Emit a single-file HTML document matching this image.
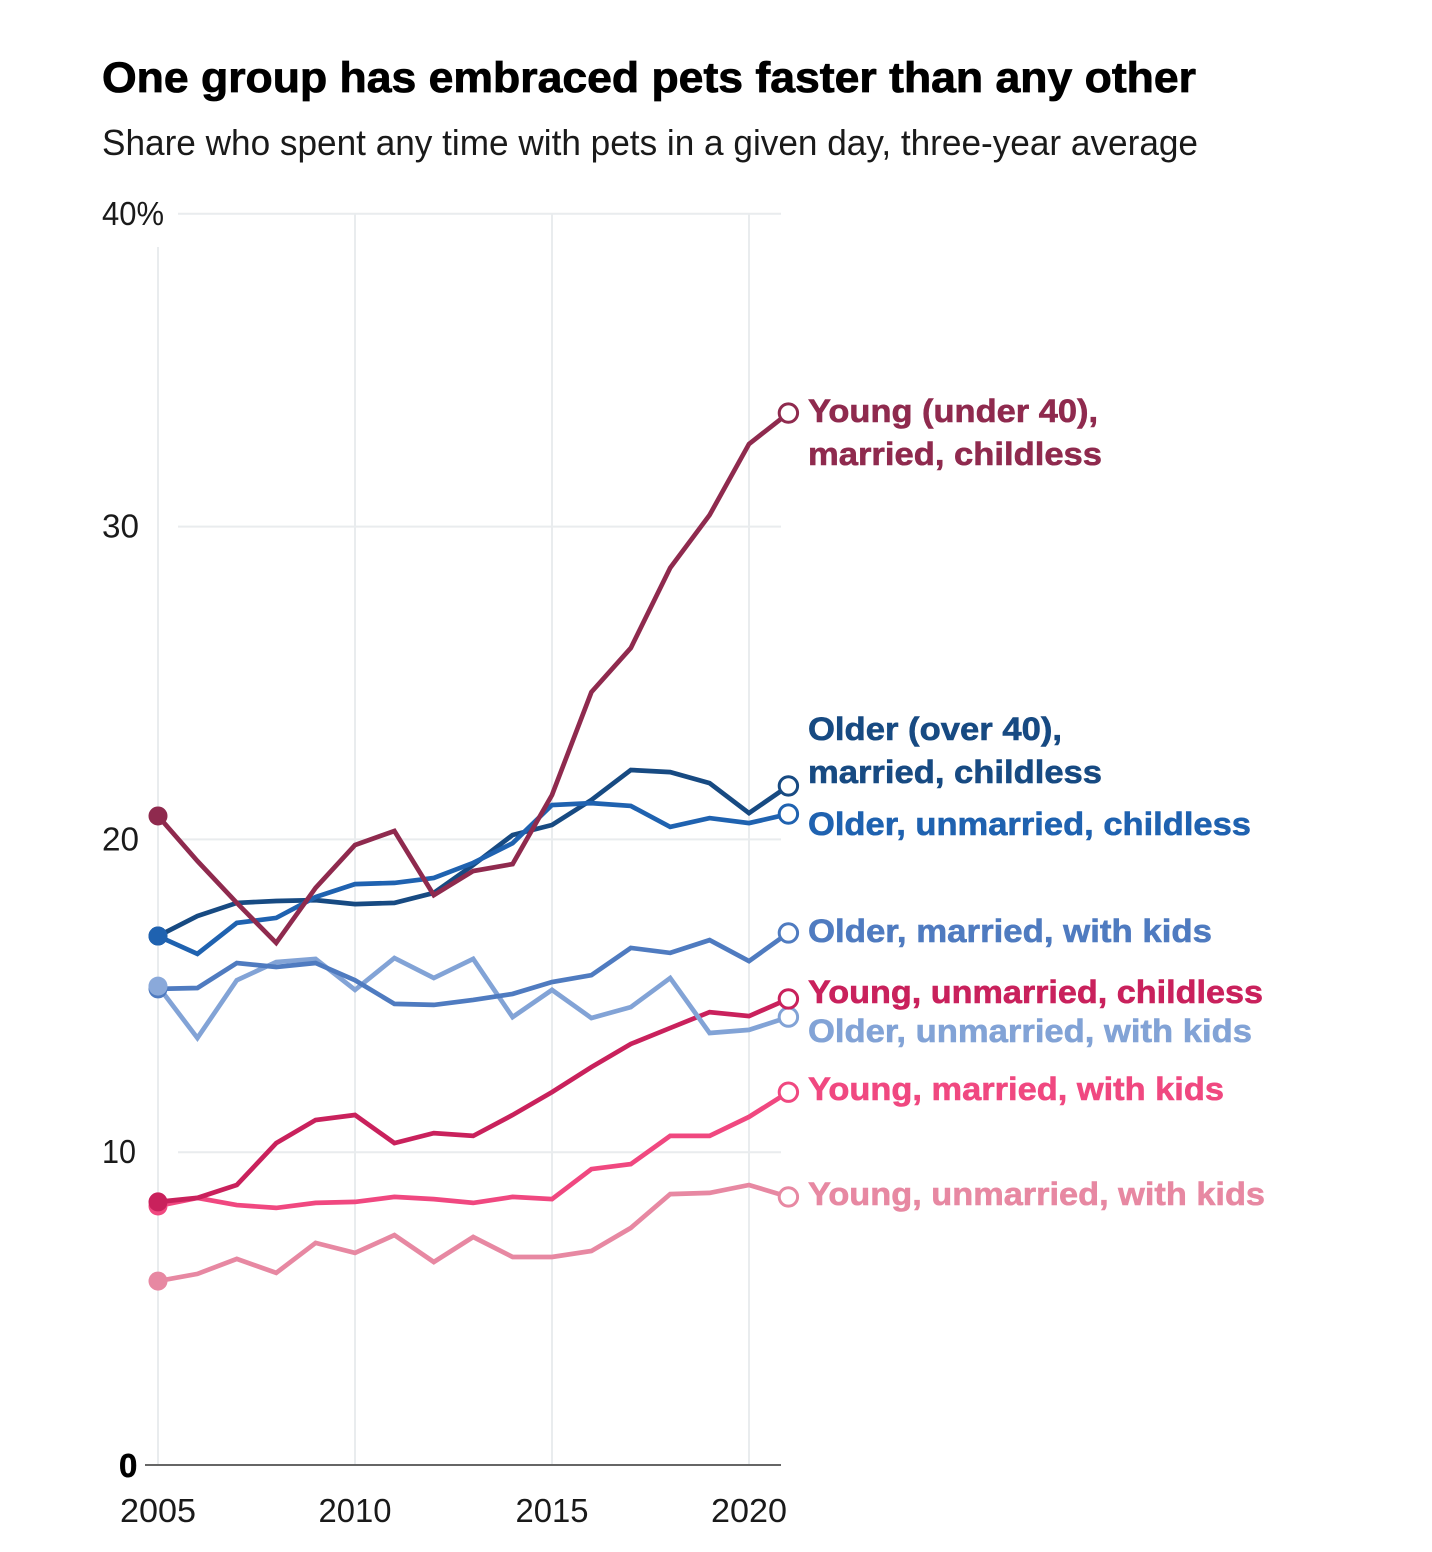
<!DOCTYPE html>
<html lang="en">
<head>
<meta charset="utf-8">
<title>One group has embraced pets faster than any other</title>
<style>
html,body{margin:0;padding:0;background:#fff;}
body{width:1432px;height:1552px;overflow:hidden;}
svg{display:block;}
text{font-family:"Liberation Sans",sans-serif;}
.label{font-size:32px;font-weight:700;}
.tick{font-size:33px;fill:#1a1a1a;}
</style>
</head>
<body>
<svg id="chart" width="1432" height="1552" viewBox="0 0 1432 1552" xmlns="http://www.w3.org/2000/svg">
  <rect width="1432" height="1552" fill="#fff"/>
  <text x="102" y="92" font-size="43" font-weight="700" fill="#000" stroke="#000" stroke-width="0.8" textLength="1094" lengthAdjust="spacingAndGlyphs">One group has embraced pets faster than any other</text>
  <text x="102" y="155" font-size="36" fill="#1a1a1a" textLength="1096" lengthAdjust="spacingAndGlyphs">Share who spent any time with pets in a given day, three-year average</text>
  <g id="grid"></g>
  <g id="axes"></g>
  <g id="series"></g>
  <g id="dots"></g>

  <g>
    <text class="label" x="808" y="422" fill="#8f2a4e" stroke="#8f2a4e" stroke-width="0.6" textLength="290" lengthAdjust="spacingAndGlyphs">Young (under 40),</text>
    <text class="label" x="808" y="465" fill="#8f2a4e" stroke="#8f2a4e" stroke-width="0.6" textLength="294" lengthAdjust="spacingAndGlyphs">married, childless</text>
    <text class="label" x="808" y="740" fill="#174a82" stroke="#174a82" stroke-width="0.6" textLength="254" lengthAdjust="spacingAndGlyphs">Older (over 40),</text>
    <text class="label" x="808" y="783" fill="#174a82" stroke="#174a82" stroke-width="0.6" textLength="294" lengthAdjust="spacingAndGlyphs">married, childless</text>
    <text class="label" x="808" y="835" fill="#1f62b0" stroke="#1f62b0" stroke-width="0.6" textLength="443" lengthAdjust="spacingAndGlyphs">Older, unmarried, childless</text>
    <text class="label" x="808" y="942" fill="#4f7bc0" stroke="#4f7bc0" stroke-width="0.6" textLength="404" lengthAdjust="spacingAndGlyphs">Older, married, with kids</text>
    <text class="label" x="808" y="1003" fill="#c9215c" stroke="#c9215c" stroke-width="0.6" textLength="455" lengthAdjust="spacingAndGlyphs">Young, unmarried, childless</text>
    <text class="label" x="808" y="1042" fill="#82a3d6" stroke="#82a3d6" stroke-width="0.6" textLength="444" lengthAdjust="spacingAndGlyphs">Older, unmarried, with kids</text>
    <text class="label" x="808" y="1100" fill="#f04880" stroke="#f04880" stroke-width="0.6" textLength="416" lengthAdjust="spacingAndGlyphs">Young, married, with kids</text>
    <text class="label" x="808" y="1205" fill="#e788a2" stroke="#e788a2" stroke-width="0.6" textLength="457" lengthAdjust="spacingAndGlyphs">Young, unmarried, with kids</text>
  </g>
</svg>
<script>
const years = [2005,2006,2007,2008,2009,2010,2011,2012,2013,2014,2015,2016,2017,2018,2019,2020,2021];
const yTicks = [10,20,30,40];
const yTickLabels = ['10','20','30','40%'];
const xTicks = [2005,2010,2015,2020];
const xTickLabels = ['2005','2010','2015','2020'];

const youngUnmarriedKids = [5.88,6.11,6.59,6.14,7.10,6.78,7.35,6.49,7.29,6.65,6.65,6.84,7.58,8.66,8.70,8.95,8.57];
const youngMarriedKids = [8.28,8.54,8.31,8.22,8.38,8.41,8.57,8.50,8.38,8.57,8.50,9.46,9.62,10.52,10.52,11.13,11.92];
const youngUnmarriedChildless = [8.41,8.54,8.95,10.29,11.03,11.19,10.29,10.61,10.52,11.19,11.92,12.72,13.46,13.97,14.48,14.35,14.90];
const olderMarriedKids = [15.22,15.25,16.05,15.92,16.05,15.50,14.74,14.71,14.87,15.06,15.44,15.66,16.53,16.37,16.78,16.11,17.01];
const olderUnmarriedKids = [15.31,13.65,15.50,16.08,16.18,15.19,16.21,15.57,16.18,14.32,15.19,14.29,14.64,15.57,13.81,13.91,14.32];
const olderUnmarriedChildless = [16.91,16.34,17.33,17.49,18.16,18.57,18.61,18.77,19.25,19.88,21.10,21.16,21.07,20.40,20.68,20.52,20.81];
const olderMarriedChildless = [16.91,17.55,17.97,18.03,18.06,17.93,17.97,18.29,19.18,20.14,20.46,21.26,22.22,22.15,21.80,20.84,21.71];
const youngMarriedChildless = [20.75,19.31,17.97,16.69,18.45,19.82,20.27,18.22,18.99,19.21,21.42,24.71,26.12,28.68,30.37,32.64,33.63];

const xScale = function (year) { return 158 + (year - 2005) * 39.4; };
const yScale = function (value) { return 1465 - value * 31.28; };

const NS = 'http://www.w3.org/2000/svg';
const make = function (parent, tag, attrs) {
  const el = document.createElementNS(NS, tag);
  Object.keys(attrs).forEach(function (k) { el.setAttribute(k, attrs[k]); });
  parent.appendChild(el);
  return el;
};

const gridG = document.getElementById('grid');
const axesG = document.getElementById('axes');
const seriesG = document.getElementById('series');
const dotsG = document.getElementById('dots');

yTicks.forEach(function (t, i) {
  const line = make(gridG, 'line', {x1: 178, x2: 781, y1: yScale(t), y2: yScale(t), stroke: '#e9ecee', 'stroke-width': 2});
  
  
  const text = yTickLabels[i];
  const width = text.length > 2 ? 62 : (text === '10' ? 34 : 37);
  const label = make(axesG, 'text', {x: 102, y: yScale(t) + 11, class: 'tick', textLength: width, lengthAdjust: 'spacingAndGlyphs'});
  label.textContent = text;
  
  
});

xTicks.forEach(function (t, i) {
  const top = t === 2005 ? 247 : yScale(40);
  const line = make(gridG, 'line', {x1: xScale(t), x2: xScale(t), y1: top, y2: yScale(0), stroke: '#e9ecee', 'stroke-width': 2});
  
  
  const width = (t === 2005 || t === 2020) ? 76 : 73;
  const label = make(axesG, 'text', {x: xScale(t), y: 1522, class: 'tick', 'text-anchor': 'middle', textLength: width, lengthAdjust: 'spacingAndGlyphs'});
  label.textContent = xTickLabels[i];
  
  
});

const baseline = make(axesG, 'line', {x1: 145, x2: 781, y1: yScale(0), y2: yScale(0), stroke: '#666', 'stroke-width': 2});


const zeroLabel = make(axesG, 'text', {x: 119, y: yScale(0) + 12, 'font-size': 33, 'font-weight': 700, fill: '#000', stroke: '#000', 'stroke-width': 0.5});
zeroLabel.textContent = '0';



const drawOrder = [
  [youngUnmarriedKids, '#e788a2'],
  [youngMarriedKids, '#f04880'],
  [youngUnmarriedChildless, '#c9215c'],
  [olderUnmarriedKids, '#82a3d6'],
  [olderMarriedKids, '#4f7bc0'],
  [olderMarriedChildless, '#174a82'],
  [olderUnmarriedChildless, '#1f62b0'],
  [youngMarriedChildless, '#8f2a4e']
];

drawOrder.forEach(function (s) {
  const values = s[0];
  const color = s[1];
  const d = values.map(function (v, i) {
    return (i ? 'L' : 'M') + xScale(years[i]).toFixed(1) + ' ' + yScale(v).toFixed(1);
  }).join(' ');
  const path = make(seriesG, 'path', {d: d, fill: 'none', stroke: color, 'stroke-width': 4.7, 'stroke-linejoin': 'miter'});
  
  
});

const dotOrder = [
  [youngUnmarriedKids, '#e788a2'],
  [youngMarriedKids, '#f04880'],
  [olderUnmarriedKids, '#82a3d6'],
  [youngUnmarriedChildless, '#c9215c'],
  [olderMarriedKids, '#4f7bc0'],
  [olderMarriedChildless, '#174a82'],
  [olderUnmarriedChildless, '#1f62b0'],
  [youngMarriedChildless, '#8f2a4e']
];

const startOrder = [
  [youngUnmarriedKids, '#e788a2'],
  [youngMarriedKids, '#f04880'],
  [youngUnmarriedChildless, '#c9215c'],
  [olderMarriedKids, '#4f7bc0'],
  [olderUnmarriedKids, '#8aa9da'],
  [olderMarriedChildless, '#174a82'],
  [olderUnmarriedChildless, '#1f62b0'],
  [youngMarriedChildless, '#8f2a4e']
];

startOrder.forEach(function (s) {
  const start = make(dotsG, 'circle', {cx: xScale(years[0]), cy: yScale(s[0][0]), r: 9.5, fill: s[1]});
  
  
});

dotOrder.forEach(function (s) {
  const last = years.length - 1;
  const end = make(dotsG, 'circle', {cx: xScale(years[last]), cy: yScale(s[0][last]), r: 9.2, fill: '#fff', stroke: s[1], 'stroke-width': 3});
  
  
});
</script>
</body>
</html>
